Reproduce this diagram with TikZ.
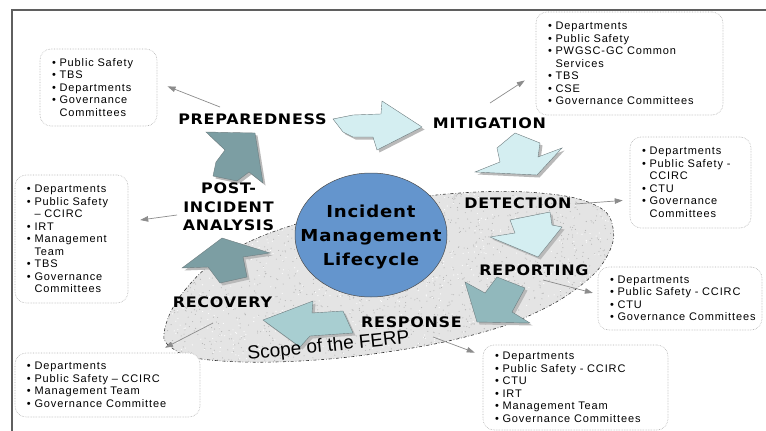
\documentclass[tikz,border=0pt]{standalone}
\usepackage{fontspec}
\usetikzlibrary{arrows.meta}

\setmainfont{Liberation Sans}
\newfontfamily\listfont{Liberation Sans}[LetterSpace=8]
\newfontfamily\phasefont{DejaVu Sans}[FakeStretch=1.1,LetterSpace=5]

\definecolor{lifeblue}{RGB}{100,149,205}
\definecolor{arrowlight}{RGB}{212,238,241}
\definecolor{arrowpale}{RGB}{168,206,209}
\definecolor{arrowmid}{RGB}{145,184,188}
\definecolor{arrowdark}{RGB}{124,158,163}
\definecolor{arrowedge}{RGB}{110,125,128}
\definecolor{linkgray}{RGB}{140,140,140}
\definecolor{framegray}{RGB}{95,95,95}

% block arrow with its drop shadow: #1 fill colour, #2 outline points
\newcommand{\blockarrow}[2]{%
  \fill[gray!55, shift={(2.5,2.5)}] #2 -- cycle;
  \filldraw[fill=#1, draw=arrowedge, line width=0.4pt] #2 -- cycle;}
\newcommand{\itm}{•~}
\newcommand{\contd}{\phantom{•}~}
\newcommand{\nohyph}{\hyphenpenalty=10000 \exhyphenpenalty=10000\relax}

\begin{document}
\begin{tikzpicture}[x=1pt,y=-1pt,
  phase/.style={font=\phasefont\bfseries\fontsize{14.5}{18.5}\selectfont, inner sep=0pt, align=center},
  infobox/.style={draw=gray!60, line width=0.6pt, dash pattern=on 0.6pt off 1pt,
    rounded corners=11pt, fill=white, align=left, inner xsep=12pt, inner ysep=0pt,
    font=\listfont\fontsize{11}{12.5}\selectfont\nohyph},
  link/.style={draw=linkgray, line width=0.7pt, -{Triangle[length=8pt,width=5.5pt]}}]
  \def\blob{plot[smooth cycle, tension=0.7] coordinates {(165,328) (185,290) (225,255)
    (290,226) (380,204) (460,193) (540,193) (595,205) (613,228) (606,258) (580,286)
    (535,313) (480,333) (400,350) (300,361) (210,360) (172,348)}};

  \useasboundingbox (0,0) rectangle (766,431);

  % scope of the FERP: grey granite patch
  \fill[gray!21] \blob;
  \begin{scope}
    \clip \blob;
    \pgfmathsetseed{42}
    \foreach \i in {1,...,1800} {   %for each dark speck
      \fill[gray!58] ({390+225*rand},{278+85*rand}) circle (0.55);
    }
    \foreach \i in {1,...,700} {    %for each light speck
      \fill[white] ({390+225*rand},{278+85*rand}) circle (0.6);
    }
  \end{scope}
  \draw[black!80, line width=0.6pt, dash dot] \blob;

  % lifecycle hub
  \filldraw[fill=lifeblue, draw=black!70, line width=0.5pt] (371,235) ellipse [x radius=76, y radius=62];
  \node[phase, anchor=north, font=\phasefont\bfseries\fontsize{16.5}{24}\selectfont] (imlc) at (371,205)
    {Incident\\Management\\Lifecycle};

  % the seven cycle arrows
  \blockarrow{arrowlight}{(333,119) -- (353,115) -- (381,114) -- (382,101) -- (422,127) -- (377,150) -- (373,137) -- (353,137) -- (343,132)}
  \blockarrow{arrowlight}{(515,133) -- (540,143) -- (538,157) -- (562,148) -- (537,175) -- (475,172) -- (500,162) -- (497,148)}
  \blockarrow{arrowlight}{(510,220) -- (550,212) -- (552,225) -- (562,227) -- (538,257) -- (490,237) -- (515,233)}
  \blockarrow{arrowmid}{(465,282) -- (485,293) -- (497,277) -- (525,288) -- (512,312) -- (530,323) -- (477,322)}
  \blockarrow{arrowpale}{(263,320) -- (313,301) -- (312,313) -- (343,311) -- (353,333) -- (310,336) -- (300,347)}
  \blockarrow{arrowdark}{(182,268) -- (222,238) -- (270,253) -- (243,257) -- (247,277) -- (220,283) -- (208,267)}
  \blockarrow{arrowdark}{(206,132) -- (255,133) -- (263,183) -- (249,172) -- (237,181) -- (213,176) -- (216,162) -- (225,150)}

  % phase names
  \node[phase, anchor=base] (prep) at (252.5,124) {PREPAREDNESS};
  \node[phase, anchor=base] (mit)  at (489.5,128) {MITIGATION};
  \node[phase, anchor=base] (det)  at (518,208)   {DETECTION};
  \node[phase, anchor=base] (rep)  at (534,275)   {REPORTING};
  \node[phase, anchor=base] (resp) at (411.5,327) {RESPONSE};
  \node[phase, anchor=base] (rec)  at (222.5,307) {RECOVERY};
  \node[phase, anchor=north] (post) at (228.5,183) {POST-\\INCIDENT\\ANALYSIS};

  \node[rotate=6, anchor=base west, inner sep=0pt, font=\fontsize{19}{19}\selectfont] (ferp) at (248,360)
    {Scope of the FERP};

  % who is involved at each phase
  \node[infobox, text width=93pt, minimum height=77pt] (prepbox) at (98.5,87.5)
    {\itm Public~Safety\\ \itm TBS\\ \itm Departments\\ \itm Governance\\ \contd Committees};
  \node[infobox, text width=163pt, minimum height=103pt] (mitbox) at (629.5,63.5)
    {\itm Departments\\ \itm Public~Safety\\ \itm PWGSC-GC~Common\\ \contd Services\\ \itm TBS\\ \itm CSE\\ \itm Governance~Committees};
  \node[infobox, text width=97pt, minimum height=91pt] (detbox) at (690.5,182.5)
    {\itm Departments\\ \itm Public~Safety~-\\ \contd CCIRC\\ \itm CTU\\ \itm Governance\\ \contd Committees};
  \node[infobox, text width=140pt, minimum height=63pt] (repbox) at (680,298.5)
    {\itm Departments\\ \itm Public~Safety~-~CCIRC\\ \itm CTU\\ \itm Governance~Committees};
  \node[infobox, text width=161pt, minimum height=85pt] (respbox) at (575.5,387.5)
    {\itm Departments\\ \itm Public~Safety~-~CCIRC\\ \itm CTU\\ \itm IRT\\ \itm Management~Team\\ \itm Governance~Committees};
  \node[infobox, text width=161pt, minimum height=64pt] (recbox) at (107.5,385)
    {\itm Departments\\ \itm Public~Safety~–~CCIRC\\ \itm Management~Team\\ \itm Governance~Committee};
  \node[infobox, text width=89pt, minimum height=128pt] (postbox) at (71.5,239)
    {\itm Departments\\ \itm Public~Safety\\ \contd –~CCIRC\\ \itm IRT\\ \itm Management\\ \contd Team\\ \itm TBS\\ \itm Governance\\ \contd Committees};

  % pointers from the phases to their boxes
  \coordinate (prepfrom) at (220,107);
  \coordinate (mitfrom)  at (490,103);
  \coordinate (detfrom)  at (575,204);
  \coordinate (repfrom)  at (543,280);
  \coordinate (respfrom) at (433,337);
  \coordinate (recfrom)  at (213,323);
  \coordinate (postfrom) at (177,215);
  \draw[link, shorten >=11pt] (prepfrom) -- (prepbox.5);
  \draw[link, shorten >=13pt] (mitfrom)  -- (mitbox.186);
  \draw[link, shorten >=7pt]  (detfrom)  -- (detbox.196);
  \draw[link, shorten >=5pt]  (repfrom)  -- (repbox.177);
  \draw[link, shorten >=8.5pt] (respfrom) -- (respbox.161);
  \draw[link, shorten >=10.8pt] (recfrom) -- (recbox.34);
  \draw[link, shorten >=12pt] (postfrom) -- (postbox.17);

  % page frame
  \draw[framegray, line width=1.2pt] (12,431) -- (12,10) -- (766,10);
\end{tikzpicture}
\end{document}
